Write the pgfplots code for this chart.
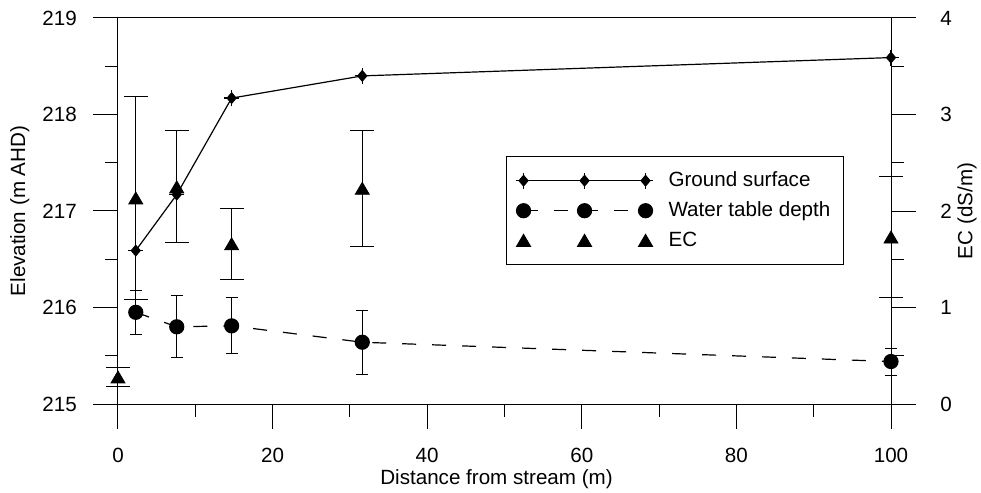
\documentclass[border=0pt]{standalone}
\usepackage{pgfplots}
\pgfplotsset{compat=1.18}
\usepackage{fontspec}
\setmainfont{Liberation Sans}

% ground surface mark: small diamond with a cross
\pgfdeclareplotmark{gsmark}{%
  \pgfpathmoveto{\pgfqpoint{-2.2pt}{0pt}}%
  \pgfpathlineto{\pgfqpoint{0pt}{2.6pt}}%
  \pgfpathlineto{\pgfqpoint{2.2pt}{0pt}}%
  \pgfpathlineto{\pgfqpoint{0pt}{-2.6pt}}%
  \pgfpathclose\pgfusepathqfillstroke
  \pgfpathmoveto{\pgfqpoint{-3.8pt}{0pt}}\pgfpathlineto{\pgfqpoint{3.8pt}{0pt}}%
  \pgfpathmoveto{\pgfqpoint{0pt}{-4pt}}\pgfpathlineto{\pgfqpoint{0pt}{4pt}}%
  \pgfusepathqstroke}
% triangle centred on its box
\pgfdeclareplotmark{tri}{%
  \pgfpathmoveto{\pgfqpoint{0pt}{3pt}}%
  \pgfpathlineto{\pgfqpoint{3.5pt}{-3pt}}%
  \pgfpathlineto{\pgfqpoint{-3.5pt}{-3pt}}%
  \pgfpathclose\pgfusepathqfillstroke}

\pgfplotsset{
  every axis/.append style={
    scale only axis, width=386.5pt, height=193pt,
    xmin=0, xmax=100,
    tick align=outside,
    major tick length=12.5pt, minor tick length=6.25pt,
    every tick/.style={black, line width=0.5pt},
    axis line style={line width=0.5pt, -},
    /pgf/number format/assume math mode=true,
    clip=false,
  },
  gstyle/.style={black, solid, line width=0.6pt, mark=gsmark},
  wstyle/.style={black, line width=0.6pt, dash pattern=on 7pt off 8pt,
    mark=*, mark size=3.5pt, mark options={solid}},
  estyle/.style={black, only marks, mark=tri},
  mylegend/.style={legend image code/.code={%
    \draw[##1] plot coordinates {(0pt,0pt) (30.5pt,0pt) (61pt,0pt)};}},
}

\begin{document}
\fontsize{10.3}{12}\selectfont
\begin{tikzpicture}
\begin{axis}[
    name=main,
    xtick={0,20,...,100}, minor x tick num=1,
    ymin=215, ymax=219,
    ytick={215,216,...,219}, minor y tick num=1,
    xtick pos=left, ytick pos=left,
    xticklabel style={yshift=-6pt},
    yticklabel style={xshift=-4.5pt},
    xlabel={Distance from stream (m)},
    ylabel={Elevation (m AHD)},
    xlabel style={at={(axis description cs:0.4897,-0.2098)}, anchor=base},
    ylabel style={at={(axis description cs:-0.127,0.5)}, anchor=center},
  ]
  \addplot[gstyle] coordinates {
    (2.3,216.59) (7.6,217.17) (14.7,218.17) (31.6,218.40) (100,218.59)
  };
  \addplot[wstyle,
    error bars/.cd, y dir=both, y explicit, error mark=|,
    error mark options={solid, black, mark size=3pt, line width=0.5pt},
    error bar style={solid, line width=0.5pt}]
  coordinates {
    (2.3,215.95)  +- (0,0.23)
    (7.6,215.80)  +- (0,0.32)
    (14.7,215.81) +- (0,0.29)
    (31.6,215.64) +- (0,0.33)
    (100,215.44)  +- (0,0.14)
  };
\end{axis}
\begin{axis}[
    axis y line*=right, axis x line=none,
    ymin=0, ymax=4,
    ytick={0,1,...,4}, minor y tick num=1,
    yticklabel style={xshift=8.5pt},
    ylabel={EC (dS/m)},
    ylabel style={at={(axis description cs:1.0983,0.5)}, anchor=center},
    legend style={at={(0.502,0.642)}, anchor=north west, draw=black,
      line width=0.5pt, inner xsep=4.7pt, inner ysep=5.5pt,
      row sep=2pt, column sep=5.7pt},
    legend cell align=left,
  ]
  \addlegendimage{gstyle, mylegend}
  \addlegendimage{wstyle, mylegend}
  \addplot[estyle, mylegend,
    error bars/.cd, y dir=both, y explicit, error mark=|,
    error mark options={black, mark size=6pt, line width=0.5pt},
    error bar style={line width=0.5pt}]
  coordinates {
    (0,0.28)     +- (0,0.10)
    (2.3,2.135)  +- (0,1.05)
    (7.6,2.25)   +- (0,0.58)
    (14.7,1.66)  +- (0,0.37)
    (31.6,2.235) +- (0,0.60)
    (100,1.73)   +- (0,0.63)
  };
  \legend{Ground surface, Water table depth\hspace{2pt}, EC}
\end{axis}
\pgfresetboundingbox
\path ([shift={(-59pt,-44.5pt)}]main.south west)
  rectangle ([shift={(431.5pt,202pt)}]main.south west);
\end{tikzpicture}
\end{document}
